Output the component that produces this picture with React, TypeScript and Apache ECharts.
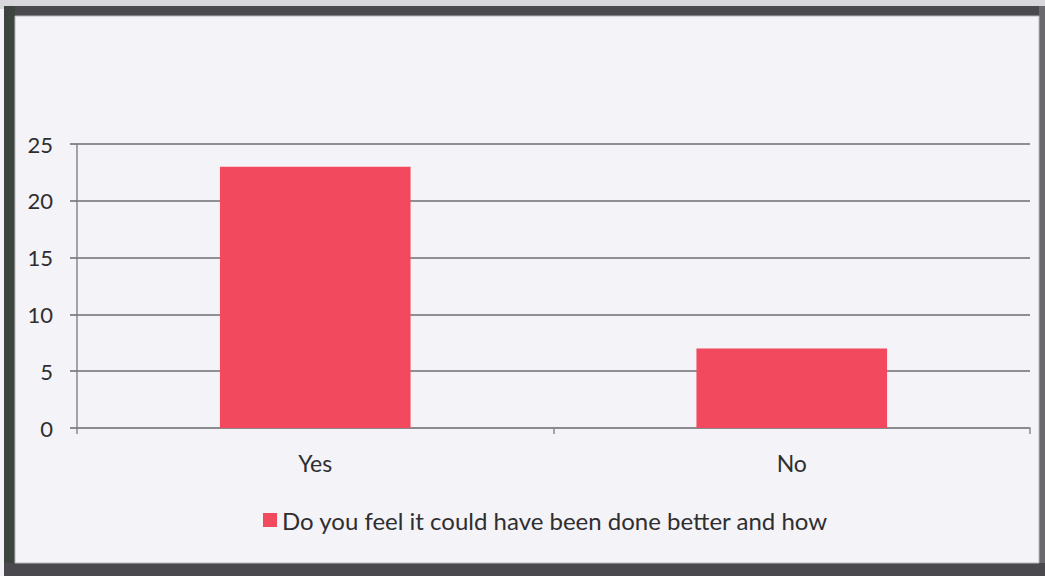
import React, { useEffect, useRef } from "react";
import * as echarts from "echarts";

const categories = ["Yes", "No"];
const values = [23, 7];
const seriesName = "Do you feel it could have been done better and how";
const yTicks = { min: 0, max: 25, interval: 5 };

export default function App() {
  const ref = useRef<HTMLDivElement>(null);
  useEffect(() => {
    document.body.style.margin = "0";
    const chart = echarts.init(ref.current!, undefined, { renderer: "svg" });
    const font = "Lato, 'Open Sans', sans-serif";
    chart.setOption({
      animation: false,
      backgroundColor: "#f4f3f7",
      textStyle: { fontFamily: font },
      grid: { left: 77, right: 15, top: 144, bottom: 148, containLabel: false },
      xAxis: {
        type: "category",
        data: categories,
        boundaryGap: true,
        axisLine: { show: true, lineStyle: { color: "#8a8a8e", width: 1.5 } },
        axisTick: { show: true, inside: false, length: 6, alignWithLabel: false, lineStyle: { color: "#8a8a8e", width: 1.5 } },
        axisLabel: { color: "#2e2e30", fontSize: 23, margin: 23, fontFamily: font },
        splitLine: { show: false },
      },
      yAxis: {
        type: "value",
        min: yTicks.min,
        max: yTicks.max,
        interval: yTicks.interval,
        axisLine: { show: true, lineStyle: { color: "#8a8a8e", width: 1.5 } },
        axisTick: { show: true, length: 7, lineStyle: { color: "#6a6a6e", width: 1.5 } },
        axisLabel: { color: "#2e2e30", fontSize: 22, margin: 24, fontFamily: font },
        splitLine: { show: true, lineStyle: { color: "#6e6e72", width: 1.5 } },
      },
      legend: {
        bottom: 39,
        left: 258,
        itemWidth: 14,
        itemHeight: 14,
        itemGap: 6,
        icon: "rect",
        textStyle: { color: "#2e2e30", fontSize: 24, fontFamily: font },
        data: [seriesName],
      },
      series: [
        {
          name: seriesName,
          type: "bar",
          data: values,
          barWidth: "40%",
          itemStyle: { color: "#f2495f" },
        },
      ],
      graphic: [
        { type: "rect", shape: { x: 0, y: 0, width: 1045, height: 9 }, style: { fill: "#d8d8dc" }, silent: true },
        { type: "rect", shape: { x: 4, y: 6, width: 1039, height: 10 }, style: { fill: "#4a4a4e" }, silent: true },
        { type: "rect", shape: { x: 4, y: 6, width: 11, height: 570 }, style: { fill: "#3e4440" }, silent: true },
        { type: "rect", shape: { x: 1039, y: 6, width: 6, height: 570 }, style: { fill: "#6a6a6e" }, silent: true },
        { type: "rect", shape: { x: 4, y: 563, width: 1041, height: 13 }, style: { fill: "#4a4a4e" }, silent: true },
        { type: "rect", shape: { x: 15, y: 16, width: 1024, height: 547 }, style: { fill: "none", stroke: "#b8b8bc", lineWidth: 1 }, silent: true },
      ],
    });
    return () => chart.dispose();
  }, []);
  return <div ref={ref} style={{ position: "absolute", left: 0, top: 0, width: 1045, height: 576 }} />;
}
